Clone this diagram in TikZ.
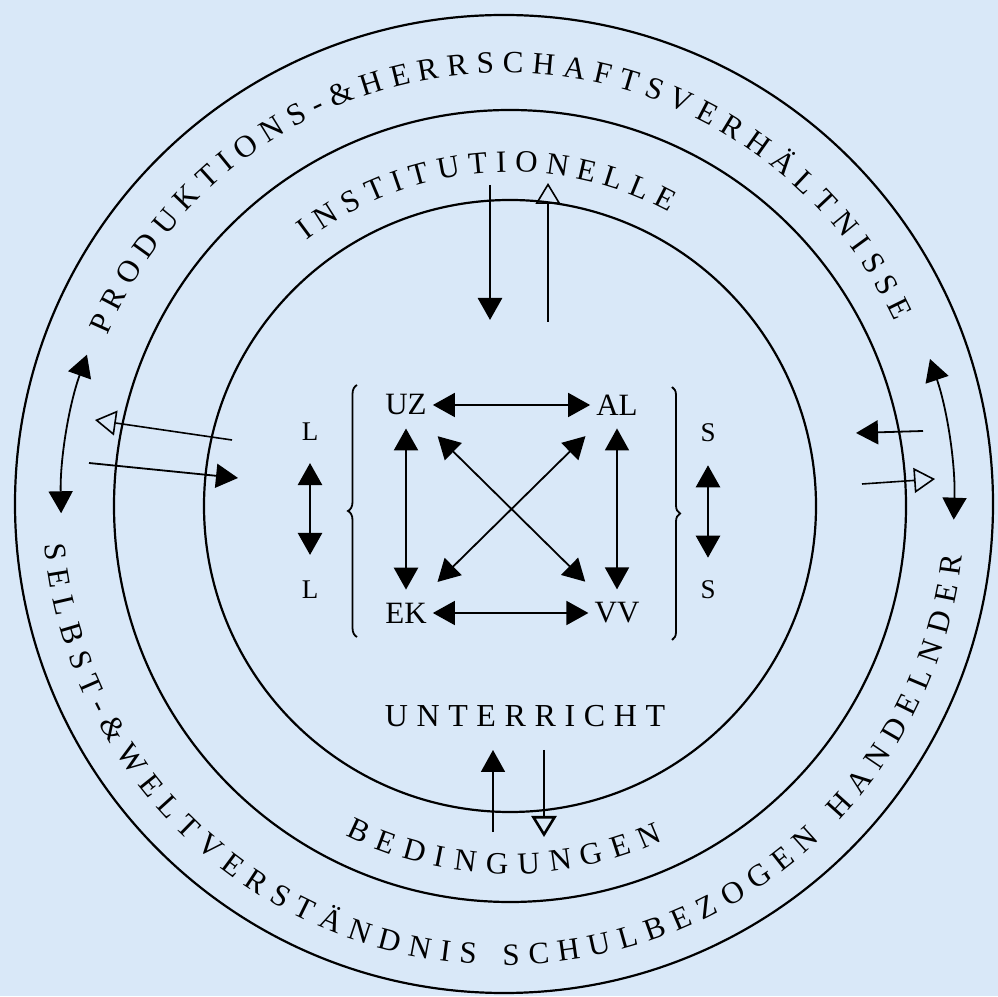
\documentclass[tikz,border=0pt]{standalone}
\usepackage{fontspec}
\setmainfont{Liberation Serif}
\newfontfamily\widefont[LetterSpace=27]{Liberation Serif}
\usetikzlibrary{arrows.meta,decorations.text,decorations.pathreplacing}
\definecolor{paper}{RGB}{217,232,248}
\newcommand{\ringfont}{\fontsize{31}{34}\selectfont}

\begin{document}
\begin{tikzpicture}[
    x=1pt, y=1pt,
    ring/.style={line width=2.2pt},
    lbl/.style={font=\fontsize{31}{33}\selectfont, inner xsep=6pt, inner ysep=13pt},
    side/.style={font=\fontsize{27}{29}\selectfont, inner sep=3pt},
    fwd/.style={-{Triangle[length=22pt,width=24pt]}, line width=1.8pt},
    hollow/.style={-{Triangle[open,length=21pt,width=25pt]}, line width=1.6pt},
    twoway/.style={{Triangle[length=22pt,width=24pt]}-{Triangle[length=22pt,width=24pt]}, line width=1.8pt},
    arctext/.style={decorate, decoration={text along path, text align=fit to path, text={|\ringfont|#1}}}
]
\fill[paper] (0,0) rectangle (998,996);
\useasboundingbox (0,0) rectangle (998,996);

% Rings
\coordinate (O) at (504,492);
\coordinate (C) at (510,490);
\draw[ring] (O) circle[radius=489];
\draw[ring] (C) circle[radius=396];
\draw[ring] (C) circle[radius=306];

% Ring texts
\path[arctext={PRODUKTIONS-{\&}HERRSCHAFTSVERHÄLTNISSE}] ([shift={(157:431)}]O) arc[start angle=157, end angle=25, radius=431];
\path[arctext={SELBST-{\&}WELTVERSTÄNDNIS SCHULBEZOGEN HANDELNDER}] ([shift={(185:461)}]O) arc[start angle=185, end angle=353.5, radius=461];
\path[arctext={INSTITUTIONELLE}] ([shift={(127.5:334)}]C) arc[start angle=127.5, end angle=61.5, radius=334];
\path[arctext={BEDINGUNGEN}] ([shift={(243.5:368)}]C) arc[start angle=243.5, end angle=294.5, radius=368];

% Inner square
\node[lbl] (UZ) at (406,591) {UZ};
\node[lbl] (AL) at (617,591) {AL};
\node[lbl] (EK) at (406,383) {EK};
\node[lbl] (VV) at (617,383) {VV};
\draw[twoway] (UZ) -- (AL);
\draw[twoway] (EK) -- (VV);
\draw[twoway, line width=2.6pt] (UZ) -- (EK);
\draw[twoway] (AL) -- (VV);
\draw[twoway, shorten <=11pt, shorten >=11pt] (UZ) -- (VV);
\draw[twoway, shorten <=11pt, shorten >=11pt] (AL) -- (EK);

% Braces
\draw[line width=1.8pt, decorate, decoration={brace, amplitude=9pt}] (357,359) -- (357,611);
\draw[line width=1.8pt, decorate, decoration={brace, amplitude=8pt}] (672,609) -- (672,356);

% L and S
\node[side] (L1) at (310,564) {L};
\node[side] (L2) at (310,406) {L};
\node[side] (S1) at (708,563) {S};
\node[side] (S2) at (708,406) {S};
\draw[twoway, line width=2.6pt, shorten <=19pt, shorten >=23pt] (L1) -- (L2);
\draw[twoway, line width=2.6pt, shorten <=20pt, shorten >=20pt] (S1) -- (S2);

\node[font=\widefont\fontsize{32}{34}\selectfont] (UN) at (525,280) {UNTERRICHT};

% Top exchange
\coordinate (ta) at (490,811);
\coordinate (tb) at (490,676);
\coordinate (tc) at (548,674);
\coordinate (td) at (548,813);
\draw[fwd, line width=2.8pt] (ta) -- (tb);
\draw[hollow] (tc) -- (td);

% Bottom exchange
\coordinate (ba) at (493,164);
\coordinate (bb) at (493,246);
\coordinate (bc) at (544,246);
\coordinate (bd) at (544,159);
\draw[fwd] (ba) -- (bb);
\draw[hollow, line width=2.6pt] (bc) -- (bd);

% Left exchange
\coordinate (la) at (232,556);
\coordinate (lb) at (95,576);
\coordinate (lc) at (89,533);
\coordinate (ld) at (238,518);
\draw[hollow] (la) -- (lb);
\draw[fwd] (lc) -- (ld);

% Right exchange
\coordinate (ra) at (923,565);
\coordinate (rb) at (856,563);
\coordinate (rc) at (862,512);
\coordinate (rd) at (935,517);
\draw[fwd] (ra) -- (rb);
\draw[hollow] (rc) -- (rd);

% Curved arrows on the outer ring
\coordinate (lw) at ([shift={(160.3:443)}]O);
\coordinate (rw) at ([shift={(18.8:450)}]O);
\draw[twoway] (lw) arc[start angle=160.3, end angle=181.2, radius=443];
\draw[twoway] (rw) arc[start angle=18.8, end angle=-2, radius=450];
\end{tikzpicture}
\end{document}
